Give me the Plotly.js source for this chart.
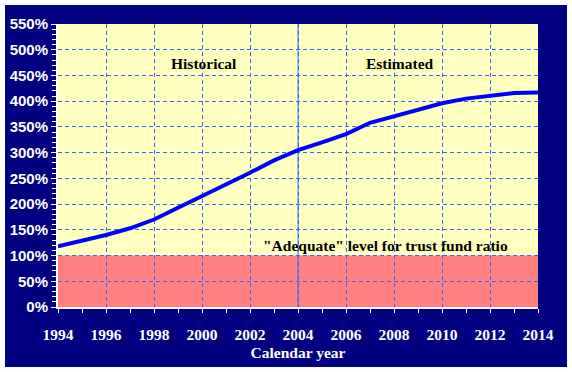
<!DOCTYPE html>
<html><head><meta charset="utf-8">
<script src="https://cdn.plot.ly/plotly-3.0.1.min.js"></script>
<style>html,body{margin:0;padding:0;background:#fff;}#chart{position:absolute;left:5px;top:5px;width:562px;height:362px;}</style>
</head><body><div id="chart"></div>
<script>
const years = [1994,1995,1996,1997,1998,1999,2000,2001,2002,2003,2004,2005,2006,2007,2008,2009,2010,2011,2012,2013,2014];
const ratio = [118,129,140,153,170,193,215,238,261,285,305,320,336,358,371,384,396,405,411,416,417];
const adequateLevel = 100;
const splitYear = 2004;
const labels = {historical:'Historical', estimated:'Estimated', adequate:'"Adequate" level for trust fund ratio', xtitle:'Calendar year'};

const serif = 'Liberation Serif, Times New Roman, serif';
const sans = 'Liberation Sans, Arial, sans-serif';
const grid = '#3366FF';

Plotly.newPlot('chart', [{
  x: years, y: ratio, type:'scatter', mode:'lines',
  line:{color:'#0000FF', width:4},
  hoverinfo:'skip'
}], {
  width:562, height:362,
  margin:{l:53, r:29, t:19, b:60},
  paper_bgcolor:'#000080', plot_bgcolor:'#FFFFC0',
  showlegend:false,
  xaxis:{
    range:[1994,2014], dtick:2, tick0:1994, showgrid:true, gridcolor:grid, griddash:'4px,3px', gridwidth:1,
    ticks:'outside', ticklen:4, tickcolor:'#fff', tickwidth:1, ticklabelstandoff:8,
    showline:true, linecolor:'#fff', linewidth:2, zeroline:false,
    minor:{dtick:1, ticks:'outside', ticklen:4, tickcolor:'#fff', showgrid:false},
    tickfont:{family:serif, size:15.5, color:'#fff', weight:'bold'},
    title:{text:labels.xtitle, font:{family:serif, size:15.5, color:'#fff', weight:'bold'}, standoff:6}
  },
  yaxis:{
    range:[0,550], dtick:50, showgrid:true, gridcolor:grid, griddash:'4px,3px', gridwidth:1,
    ticksuffix:'%', ticks:'outside', ticklen:5, tickcolor:'#fff',
    showline:true, linecolor:'#fff', linewidth:2, zeroline:false,
    minor:{dtick:10, ticks:'outside', ticklen:4, tickcolor:'#fff', showgrid:false},
    tickfont:{family:sans, size:15, color:'#fff', weight:'bold'}
  },
  shapes:[
    {type:'rect', xref:'paper', yref:'y', x0:0, x1:1, y0:0, y1:adequateLevel, fillcolor:'#FF8080', line:{width:0}, layer:'below'},
    {type:'line', xref:'x', yref:'paper', x0:splitYear, x1:splitYear, y0:0, y1:1, line:{color:grid, width:1}, layer:'below'}
  ],
  annotations:[
    {text:labels.historical, x:2000.08, y:474, xref:'x', yref:'y', showarrow:false, font:{family:serif, size:15.5, color:'#000', weight:'bold'}},
    {text:labels.estimated, x:2008.23, y:474, xref:'x', yref:'y', showarrow:false, font:{family:serif, size:15.5, color:'#000', weight:'bold'}},
    {text:labels.adequate, x:2007.65, y:120, xref:'x', yref:'y', showarrow:false, font:{family:serif, size:15.5, color:'#000', weight:'bold'}}
  ]
}, {displayModeBar:false, staticPlot:true});
</script></body></html>
